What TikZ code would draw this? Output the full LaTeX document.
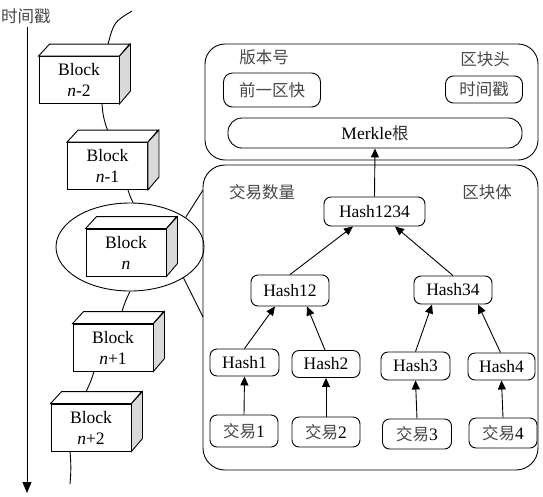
\documentclass[tikz,border=0pt]{standalone}
\usepackage{fontspec}
\setmainfont{Liberation Serif}
\newfontfamily\cjk{Noto Sans CJK SC}
\usetikzlibrary{arrows.meta,shapes.geometric,calc}
\begin{document}
\begin{tikzpicture}[x=1pt,y=-1pt,
  every node/.style={font=\fontsize{17.5}{21}\selectfont},
  lw/.style={line width=0.9pt},
  blockface/.style={lw,draw,fill=white,minimum width=80pt,minimum height=47pt,inner sep=0pt,align=center},
  rbox/.style={lw,draw,rounded corners=7pt,inner sep=0pt,fill=white},
  cn/.style={font=\cjk\fontsize{16.5}{19}\selectfont,text=black!72},
  arr/.style={lw,-{Triangle[length=9pt,width=8pt]}},
  tarr/.style={lw,-{Triangle[length=11pt,width=9pt]}},
  conn/.style={lw},
]
\useasboundingbox (0,0) rectangle (543,496);

% timeline
\node[cn] (ts) at (26,16) {时间戳};
\coordinate (tstart) at (27,27);
\coordinate (tlend) at (27,493);
\draw[tarr] (tstart) -- (tlend);

% header and body boxes
\node[lw,draw,rounded corners=20pt,minimum width=333pt,minimum height=116pt,inner sep=0pt] (hdr) at (371.5,102) {};
\node[lw,draw,rounded corners=22pt,minimum width=335pt,minimum height=305pt,inner sep=0pt] (body) at (370.5,317.5) {};

% ellipse around block n
\node[lw,draw,ellipse,minimum width=148pt,minimum height=88pt,inner sep=0pt] (ell) at (130,247) {};
\coordinate (bt) at (203,190);
\coordinate (bb) at (203,317);
\draw[conn] (ell.28) -- (bt);
\draw[conn] (ell.-30) -- (bb);

% blocks
\node[blockface] (b1) at (79,80) {Block\\\textit{n}-2};
\node[blockface] (b2) at (107.5,166) {Block\\\textit{n}-1};
\node[blockface] (b3) at (126,252.5) {Block\\\textit{n}};
\node[blockface] (b4) at (113,347.5) {Block\\\textit{n}+1};
\node[blockface] (b5) at (91,427.5) {Block\\\textit{n}+2};
\foreach \b in {b1,b2,b3,b4,b5}{
  \draw[conn,fill=white] (\b.north west) -- ++(11,-12) -- ++(80,0) -- (\b.north east) -- cycle;
  \draw[conn,fill=gray!30] (\b.north east) -- ++(11,-12) -- ++(0,47) -- (\b.south east) -- cycle;
}

% chain connectors
\coordinate (ctop) at (132,11);
\coordinate (cbot) at (70,484);
\draw[conn] (ctop) .. controls (114,22) .. ($(b1.north)+(29,-12)$);
\draw[conn] ($(b1.south)+(23,0)$) to[bend right=8] ($(b2.north)+(0,-12)$);
\draw[conn] ($(b2.south)+(20.5,0)$) to[bend right=5] (ell.86);
\draw[conn] (ell.-90) to[bend right=5] ($(b4.north)+(9,-12)$);
\draw[conn] ($(b4.south)+(-19,0)$) to[bend left=5] ($(b5.north)+(-5,-12)$);
\draw[conn] ($(b5.south)+(-21,0)$) to[bend left=5] (cbot);

% header contents
\node[cn] (ver) at (264,57) {版本号};
\node[cn] (hd) at (485,59) {区块头};
\node[rbox,cn,minimum width=97pt,minimum height=34pt,rounded corners=9pt] (prev) at (272,90) {前一区快};
\node[rbox,cn,minimum width=77pt,minimum height=27pt,rounded corners=8pt] (tsb) at (484,89.5) {时间戳};
\node[rbox,minimum width=294pt,minimum height=30pt,rounded corners=14pt] (mk) at (375,133) {Merkle{\cjk\fontsize{16.5}{19}\selectfont\color{black!80}根}};

% body contents
\node[cn] (cnt) at (262,192) {交易数量};
\node[cn] (bdy) at (487,192) {区块体};

\node[rbox,minimum width=101pt,minimum height=29pt] (h1234) at (374.5,211.5) {Hash1234};
\node[rbox,minimum width=78pt,minimum height=31pt] (h12) at (290,290.5) {Hash12};
\node[rbox,minimum width=78pt,minimum height=28pt] (h34) at (453,290) {Hash34};
\node[rbox,minimum width=69pt,minimum height=27pt] (h1) at (244.5,362.5) {Hash1};
\node[rbox,minimum width=68pt,minimum height=27pt] (h2) at (326,364) {Hash2};
\node[rbox,minimum width=69pt,minimum height=28pt] (h3) at (415.5,366) {Hash3};
\node[rbox,minimum width=67pt,minimum height=27pt] (h4) at (501.5,366.5) {Hash4};

\node[rbox,minimum width=68pt,minimum height=32pt] (t1) at (244,431) {{\cjk\fontsize{16.5}{19}\selectfont\color{black!72}交易}1};
\node[rbox,minimum width=68pt,minimum height=30pt] (t2) at (326,432) {{\cjk\fontsize{16.5}{19}\selectfont\color{black!72}交易}2};
\node[rbox,minimum width=69pt,minimum height=30pt] (t3) at (417,434) {{\cjk\fontsize{16.5}{19}\selectfont\color{black!72}交易}3};
\node[rbox,minimum width=68pt,minimum height=30pt] (t4) at (503,433) {{\cjk\fontsize{16.5}{19}\selectfont\color{black!72}交易}4};

% arrows
\draw[arr] (t1.north) -- (h1.south);
\draw[arr] (t2.north) -- (h2.south);
\draw[arr] (t3.north) -- (h3.south);
\draw[arr] (t4.north) -- (h4.south);
\draw[arr] (h1.north) -- ($(h12.south)+(-15,0)$);
\draw[arr] ($(h2.north)+(-1,0)$) -- ($(h12.south)+(17,0)$);
\draw[arr] (h3.north) -- ($(h34.south)+(-21,0)$);
\draw[arr] ($(h4.north)+(-1,0)$) -- ($(h34.south)+(25,0)$);
\draw[arr] (h12.north) -- ($(h1234.south)+(-21.5,0)$);
\draw[arr] (h34.north) -- ($(h1234.south)+(20.5,0)$);
\draw[arr] (h1234.north) -- (mk.south);
\end{tikzpicture}
\end{document}
